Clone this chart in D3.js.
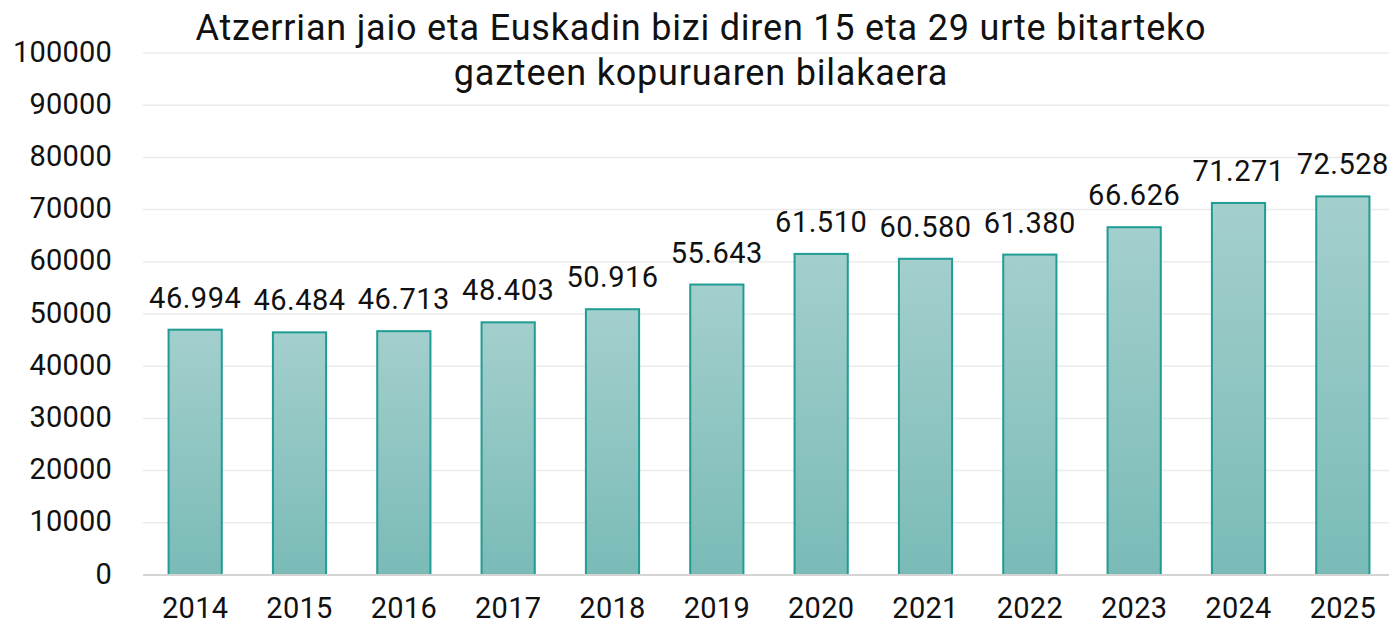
<!DOCTYPE html>
<html><head><meta charset="utf-8">
<script src="https://cdn.jsdelivr.net/npm/d3@7"></script>
<style>
body{margin:0;background:#fff;}
text{font-family:Roboto, "DejaVu Sans", sans-serif;fill:#111;}
</style></head>
<body><svg id="c" width="1389" height="625"></svg>
<script>
const years = ["2014","2015","2016","2017","2018","2019","2020","2021","2022","2023","2024","2025"];
const values = [46994,46484,46713,48403,50916,55643,61510,60580,61380,66626,71271,72528];
const valueLabels = ["46.994","46.484","46.713","48.403","50.916","55.643","61.510","60.580","61.380","66.626","71.271","72.528"];
const yTicks = [0,10000,20000,30000,40000,50000,60000,70000,80000,90000,100000];
const titleLines = ["Atzerrian jaio eta Euskadin bizi diren 15 eta 29 urte bitarteko","gazteen kopuruaren bilakaera"];

(function(){
const svg = d3.select("#c");
const mLeft = 143, mRight = 1395, mTop = 53, mBottom = 575;
const x = d3.scaleBand().domain(years).range([mLeft,mRight]).paddingInner(0.49).paddingOuter(0.245);
const y = d3.scaleLinear().domain([0,100000]).range([mBottom,mTop]);

const defs = svg.append("defs");
const g = defs.append("linearGradient").attr("id","bg").attr("x1",0).attr("y1",0).attr("x2",0).attr("y2",1);
g.append("stop").attr("offset","0%").attr("stop-color","#a3cfcd");
g.append("stop").attr("offset","100%").attr("stop-color","#7abbb7");

svg.append("g").selectAll("line").data(yTicks.filter(d=>d>0)).join("line")
  .attr("x1",mLeft).attr("x2",1389).attr("y1",d=>y(d)).attr("y2",d=>y(d))
  .attr("stroke","#ebebeb").attr("stroke-width",1.5);

const yAxis = d3.axisLeft(y).tickValues(yTicks).tickSize(0).tickPadding(0).tickFormat(d3.format("d"));
const ya = svg.append("g").attr("transform",`translate(112,0)`).call(yAxis);
ya.select(".domain").remove();
ya.selectAll("text").style("font-size","29px").style("letter-spacing","0.2px").attr("fill","#111").attr("dy","8px");

svg.append("g").selectAll("rect").data(values).join("rect")
  .attr("x",(d,i)=>x(years[i])).attr("width",x.bandwidth())
  .attr("y",d=>y(d)).attr("height",d=>mBottom-y(d))
  .attr("fill","url(#bg)").attr("stroke","#1f9c93").attr("stroke-width",2);

svg.append("line").attr("x1",mLeft).attr("x2",1389).attr("y1",mBottom).attr("y2",mBottom)
  .attr("stroke","#d4d4d4").attr("stroke-width",2);

const xAxis = d3.axisBottom(x).tickSize(0).tickPadding(0);
const xa = svg.append("g").attr("transform",`translate(0,${mBottom})`).call(xAxis);
xa.select(".domain").remove();
xa.selectAll("text").style("font-size","29px").style("letter-spacing","0.3px").attr("fill","#111").attr("y",43).attr("dy",0);

svg.append("g").selectAll("text").data(values).join("text")
  .attr("x",(d,i)=>x(years[i])+x.bandwidth()/2).attr("y",d=>y(d)-22)
  .attr("text-anchor","middle").style("font-size","29px").style("letter-spacing","0.5px")
  .text((d,i)=>valueLabels[i]);

svg.append("g").selectAll("text").data(titleLines).join("text")
  .attr("x",701).attr("y",(d,i)=>40+i*45).attr("text-anchor","middle")
  .style("font-size","36px").style("letter-spacing","0.8px").text(d=>d);
})();
</script></body></html>
